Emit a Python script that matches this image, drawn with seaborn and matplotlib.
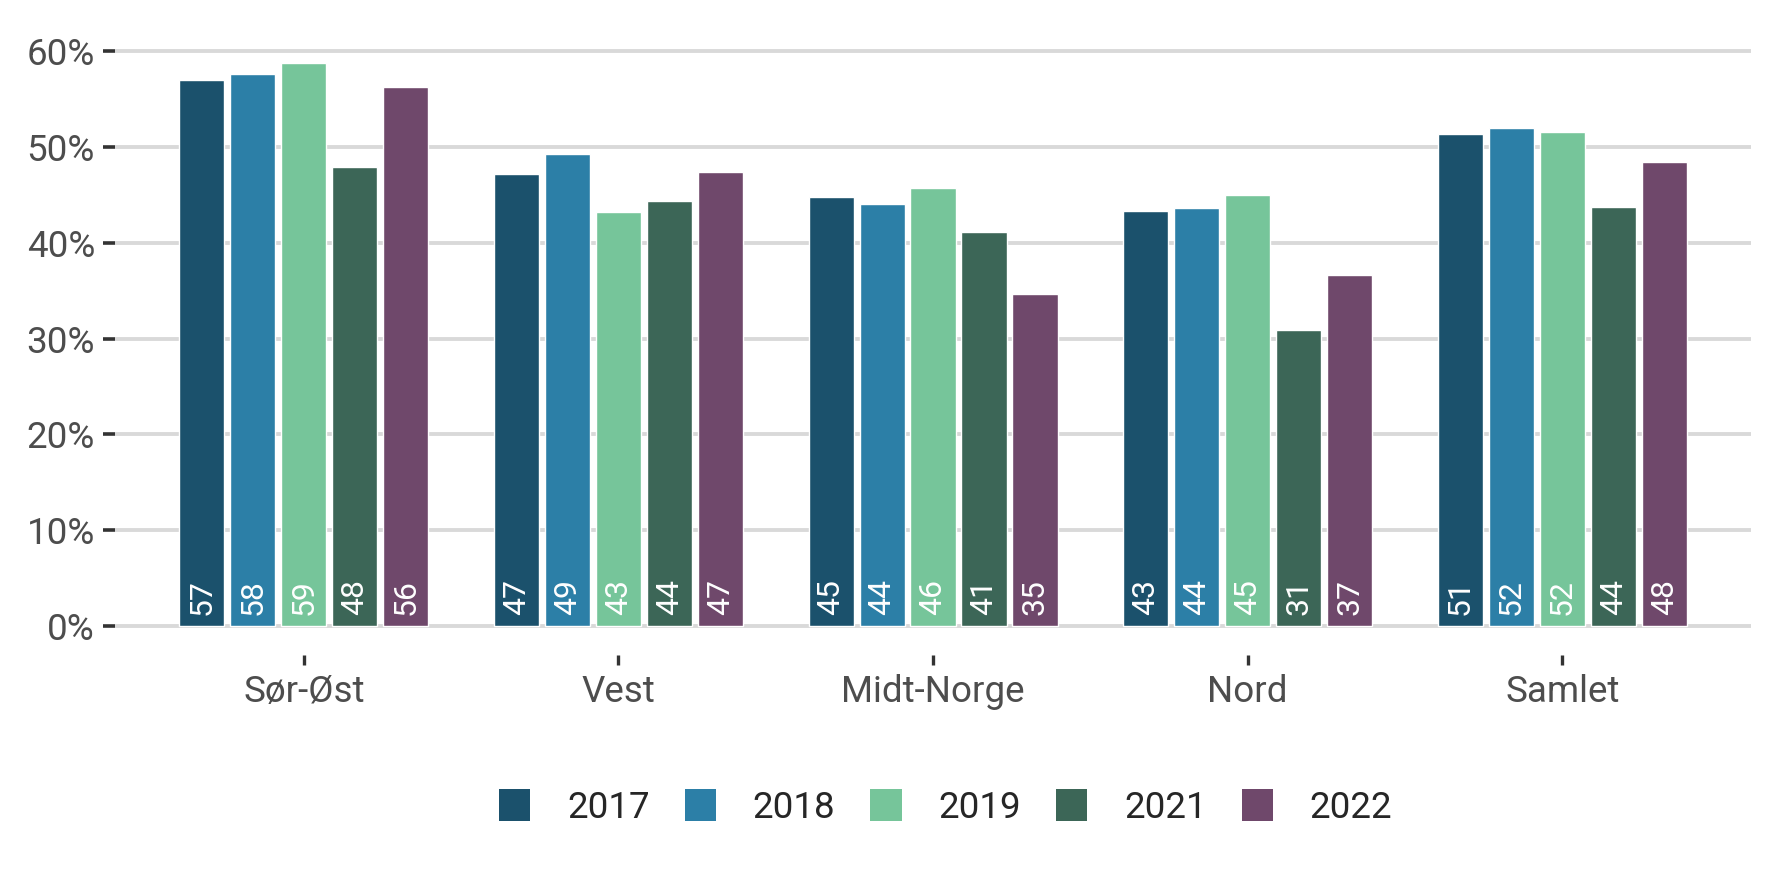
import pandas as pd
import matplotlib
matplotlib.use("Agg")
import matplotlib.pyplot as plt
import seaborn as sns
from matplotlib.patches import Patch
from matplotlib.ticker import FuncFormatter

# -----------------------------
# Data
# -----------------------------
regions = ["Sør-Øst", "Vest", "Midt-Norge", "Nord", "Samlet"]
years = ["2017", "2018", "2019", "2021", "2022"]

share_2017 = [57.0, 47.2, 44.8, 43.3, 51.4]
share_2018 = [57.6, 49.3, 44.1, 43.6, 52.0]
share_2019 = [58.8, 43.2, 45.7, 45.0, 51.6]
share_2021 = [47.9, 44.4, 41.1, 30.9, 43.7]
share_2022 = [56.3, 47.4, 34.7, 36.6, 48.4]

colors = ["#1B516C", "#2C7FA7", "#76C59A", "#3C6657", "#6F486B"]

# -----------------------------
# Build long table
# -----------------------------
series = [share_2017, share_2018, share_2019, share_2021, share_2022]
rows = []
for year, vals in zip(years, series):
    for region, v in zip(regions, vals):
        rows.append({"region": region, "year": year, "share": v})
df = pd.DataFrame(rows)
palette = dict(zip(years, colors))

sns.set_style("white")
plt.rcParams["font.family"] = ["Roboto", "DejaVu Sans"]

fig = plt.figure(figsize=(17.71, 8.74), dpi=100)
ax = fig.add_axes([0.065, 0.2506, 0.9237, 0.696])

sns.barplot(data=df, x="region", y="share", hue="year", order=regions,
            hue_order=years, palette=palette, width=0.81, gap=0.115,
            saturation=1, ax=ax, legend=False)

# value labels at the foot of each bar
for container in ax.containers:
    for bar in container:
        h = bar.get_height()
        ax.text(bar.get_x() + bar.get_width() / 2, 1.1, f"{round(h):.0f}",
                rotation=90, ha="center", va="bottom", color="white",
                fontsize=23)

ax.set_ylim(-3.05, 60.5)
ax.set_xlim(-0.6, 4.6)
ax.set_yticks([0, 10, 20, 30, 40, 50, 60])
ax.yaxis.set_major_formatter(FuncFormatter(lambda v, p: f"{v:.0f}%"))
ax.set_xlabel("")
ax.set_ylabel("")

for s in ax.spines.values():
    s.set_visible(False)

ax.grid(False)
for t in [0, 10, 20, 30, 40, 50, 60]:
    ax.axhline(t, color="#D9D9D9", lw=2.8, zorder=0)
ax.set_axisbelow(True)

ax.tick_params(axis="y", length=8.5, width=2.6, color="#333333",
               labelcolor="#4D4D4D", labelsize=26.5, pad=6, left=True)
ax.tick_params(axis="x", length=7, width=2.4, color="#333333",
               labelcolor="#4D4D4D", labelsize=26.5, pad=7, bottom=True)

handles = [Patch(facecolor=c, edgecolor="none") for c in colors]
fig.legend(handles, years, loc="center", bbox_to_anchor=(0.534, 0.076),
           ncol=5, frameon=False, fontsize=26.5, handlelength=0.85,
           handleheight=0.95, handletextpad=1.0, columnspacing=0.95)

fig.savefig("out.png", dpi=100, facecolor="white")
